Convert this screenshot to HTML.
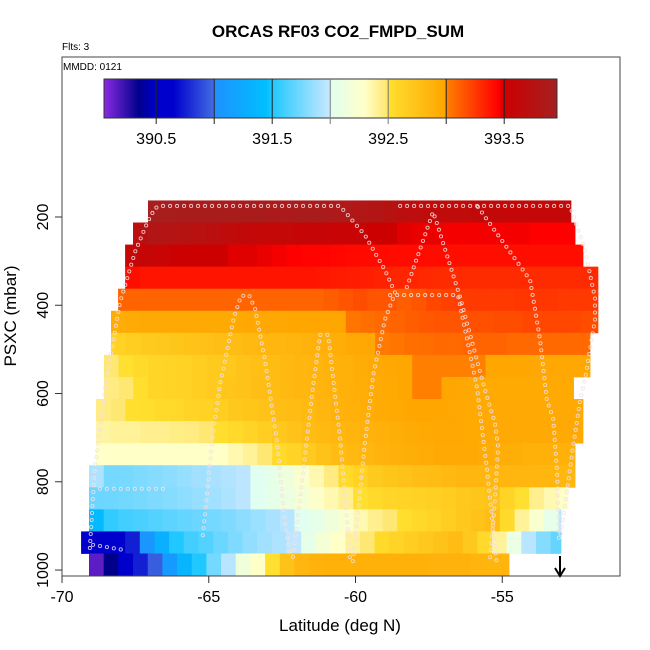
<!DOCTYPE html>
<html><head><meta charset="utf-8">
<style>
body{margin:0;background:#fff;}
svg{display:block;font-family:"Liberation Sans",Arial,sans-serif;}
</style></head>
<body>
<svg id="chart" width="650" height="650" viewBox="0 0 650 650" xmlns="http://www.w3.org/2000/svg">
<text x="338" y="37" font-size="17" font-weight="bold" text-anchor="middle">ORCAS RF03 CO2_FMPD_SUM</text>
<text x="62" y="50" font-size="10">Flts: 3</text>
<g id="heat"></g>
<g id="track"></g>
<g id="cbar"></g>
<text x="63" y="70" font-size="10">MMDD: 0121</text>
<rect x="62" y="57" width="558" height="519" fill="none" stroke="#444" stroke-width="1"/>
<g id="axes"></g>
<text x="340" y="631" font-size="17" text-anchor="middle">Latitude (deg N)</text>
<text transform="translate(16,316) rotate(-90)" font-size="17" text-anchor="middle">PSXC (mbar)</text>
<g>
<line x1="560" y1="556" x2="560" y2="575" stroke="#000" stroke-width="2"/>
<path d="M555 568 L560 576 L565 568" fill="none" stroke="#000" stroke-width="2"/>
</g>
</svg>
<script>
const NS="http://www.w3.org/2000/svg";
const xTicks=[-70,-65,-60,-55];
const yTicks=[200,400,600,800,1000];
const cbTicks=[390.5,391.5,392.5,393.5];
const cbDivs=[390.5,391.0,391.5,392.0,392.5,393.0,393.5];
const binWidth=0.5;
const rowTop=[162.5,212.5,262.5,312.5,362.5,412.5,462.5,512.5,562.5,612.5,662.5,712.5,762.5,812.5,862.5,912.5,962.5];
const rowStart=[-67.07,-67.58,-67.85,-67.85,-68.09,-68.33,-68.33,-68.57,-68.57,-68.84,-68.84,-68.84,-69.08,-69.08,-69.08,-69.35,-69.08];
const rowEnd=[-52.66,-52.52,-52.25,-51.74,-51.74,-51.74,-52.01,-52.01,-52.25,-52.25,-52.25,-52.52,-52.52,-52.76,-53.0,-53.0,-54.77];
const row0=[393.92,393.92,393.9,393.9,393.9,393.9,393.9,393.9,393.88,393.88,393.9,393.9,393.88,393.85,393.82,393.8,393.75,393.7,393.68,393.65,393.65,393.65,393.62,393.62,393.6,393.6,393.6,393.6,393.62];
const row1=[393.7,393.8,393.78,393.75,393.72,393.7,393.65,393.62,393.6,393.6,393.6,393.58,393.58,393.55,393.55,393.55,393.52,393.5,393.48,393.47,393.47,393.46,393.46,393.46,393.46,393.46,393.46,393.45,393.45,393.45,393.45];
const row2=[393.6,393.58,393.55,393.52,393.5,393.5,393.5,393.48,393.48,393.47,393.46,393.45,393.44,393.44,393.43,393.42,393.42,393.42,393.41,393.41,393.41,393.41,393.4,393.4,393.4,393.4,393.4,393.4,393.4,393.4,393.4,393.4];
const row3=[393.4,393.38,393.38,393.38,393.38,393.38,393.38,393.38,393.38,393.38,393.38,393.38,393.38,393.37,393.36,393.35,393.34,393.33,393.32,393.32,393.31,393.3,393.3,393.3,393.3,393.3,393.3,393.3,393.3,393.3,393.3,393.3,393.3];
const row4=[393.1,393.1,393.1,393.1,393.1,393.1,393.1,393.1,393.1,393.1,393.1,393.1,393.1,393.1,393.12,393.15,393.18,393.15,393.15,393.12,393.15,393.2,393.22,393.24,393.25,393.25,393.25,393.26,393.26,393.26,393.25,393.25,393.25];
const row5=[392.93,392.94,392.95,392.95,392.95,392.95,392.96,392.96,392.96,392.97,392.97,392.97,392.98,392.98,392.98,392.98,393.04,393.06,393.08,393.1,393.12,393.14,393.15,393.15,393.17,393.17,393.18,393.18,393.2,393.2,393.2,393.2,393.18,393.18];
const row6=[392.62,392.65,392.68,392.7,392.72,392.74,392.76,392.78,392.8,392.82,392.84,392.85,392.86,392.88,392.9,392.92,392.95,392.97,393.02,393.04,393.06,393.07,393.08,393.08,393.1,393.1,393.1,393.08,393.08,393.08,393.08,393.08,393.08];
const row7=[392.48,392.5,392.55,392.58,392.6,392.62,392.65,392.68,392.7,392.74,392.77,392.8,392.82,392.84,392.86,392.88,392.9,392.93,392.95,392.97,392.98,393.0,393.0,393.0,393.0,393.0,392.98,392.98,392.98,392.97,392.97,392.97,392.97,392.97];
const row8=[392.45,392.48,392.52,392.58,392.6,392.62,392.65,392.68,392.72,392.75,392.78,392.8,392.82,392.84,392.86,392.88,392.9,392.92,392.94,392.96,392.98,393.0,393.0,392.98,392.97,392.96,392.96,392.96,392.96,392.96,392.96,392.96];
const row9=[392.45,392.48,392.5,392.52,392.55,392.57,392.6,392.62,392.65,392.7,392.72,392.75,392.78,392.8,392.82,392.85,392.88,392.9,392.92,392.94,392.96,392.98,392.98,392.98,392.97,392.96,392.95,392.95,392.95,392.95,392.95,392.95,392.95,392.95];
const row10=[392.38,392.4,392.4,392.42,392.42,392.44,392.45,392.48,392.52,392.55,392.6,392.65,392.7,392.75,392.8,392.82,392.85,392.86,392.88,392.9,392.92,392.94,392.96,392.97,392.97,392.96,392.95,392.95,392.95,392.95,392.95,392.95,392.95,392.95];
const row11=[392.3,392.3,392.3,392.3,392.3,392.3,392.3,392.3,392.3,392.35,392.4,392.48,392.55,392.6,392.68,392.75,392.8,392.82,392.85,392.87,392.9,392.92,392.93,392.95,392.95,392.95,392.93,392.92,392.92,392.9,392.9,392.9,392.9];
const row12=[391.92,391.75,391.76,391.78,391.8,391.82,391.85,391.88,391.9,391.93,391.96,392.0,392.05,392.15,392.25,392.35,392.45,392.55,392.62,392.68,392.72,392.75,392.78,392.8,392.82,392.84,392.85,392.85,392.85,392.85,392.84,392.84,392.84,392.84];
const row13=[391.72,391.73,391.74,391.76,391.78,391.8,391.82,391.85,391.88,391.92,391.96,392.0,392.05,392.12,392.2,392.28,392.35,392.42,392.5,392.55,392.58,392.6,392.62,392.64,392.66,392.7,392.72,392.75,392.6,392.5,392.42,392.35,392.3];
const row14=[391.4,391.55,391.6,391.62,391.65,391.68,391.7,391.72,391.75,391.78,391.82,391.86,391.9,391.95,392.0,392.05,392.15,392.25,392.35,392.42,392.48,392.52,392.56,392.6,392.65,392.7,392.75,392.8,392.55,392.4,392.25,392.05,391.95];
const row15=[390.55,390.6,390.6,390.75,391.05,391.3,391.5,391.6,391.65,391.72,391.78,391.84,391.88,391.92,391.97,392.05,392.2,392.3,392.4,392.48,392.55,392.6,392.65,392.7,392.75,392.8,392.7,392.55,392.4,392.1,391.95,391.8,391.7];
const row16=[390.15,390.35,390.55,390.75,390.95,391.1,391.35,391.5,391.75,391.95,392.15,392.3,392.5,392.75,392.85,392.88,392.9,392.9,392.9,392.9,392.9,392.9,392.9,392.88,392.88,392.88,392.86,392.86,392.86];
const rows=[row0,row1,row2,row3,row4,row5,row6,row7,row8,row9,row10,row11,row12,row13,row14,row15,row16];
const trackLat=[
 [-69.05,-68.88,-68.5,-68.02,-67.51,-67.07,-66.83,-66.66,-60.53,-59.68,-59.0,-58.65,-59.0,-59.4,-59.68,-59.88,-60.09],
 [-58.82,-56.51,-55.86,-55.52,-55.18],
 [-58.25,-57.36,-57.26,-56.44,-55.59,-55.25,-55.14,-55.28,-55.42],
 [-58.48,-52.69,-52.18,-51.84,-51.84,-52.15,-52.35,-52.62,-52.76,-53.03],
 [-55.83,-54.05,-53.71,-53.48,-53.27,-53.13,-53.07],
 [-65.2,-64.86,-64.62,-64.14,-63.9,-63.63,-63.42,-63.08,-62.67,-62.4,-62.23],
 [-62.13,-61.79,-61.45,-61.24,-61.21,-60.94,-60.9,-60.73,-60.53,-60.36,-60.19],
 [-68.94,-67.85],
 [-68.71,-66.49]
];
const trackP=[
 [950,769,574,393,279,209,180,175,175,241,320,372,433,560,712,844,980],
 [377,377,587,773,991],
 [359,189,207,381,592,667,721,871,977],
 [175,175,275,384,433,556,617,735,805,927],
 [177,343,479,615,655,778,927],
 [921,694,581,427,379,377,408,526,712,893,970],
 [970,782,585,485,467,467,485,585,699,830,973],
 [943,955],
 [816,816]
];
const X0=62,X1=620;
const xS=v=>X0+(v+70)*(X1-X0)/19.0118;
const yS=p=>217+(p-200)*0.4413;
const cbX=v=>104+(v-390.05)*116;
const stops=[[390.05,"#8a2be2"],[390.35,"#00008b"],[390.5,"#0000cd"],[390.65,"#0000cd"],[390.99,"#4169e1"],[391.0,"#1e90ff"],[391.45,"#00bfff"],[391.5,"#20c8ff"],[391.99,"#c6e8ff"],[392.0,"#e0fff0"],[392.3,"#ffffc8"],[392.49,"#ffe66e"],[392.5,"#ffe030"],[392.99,"#ffa500"],[393.0,"#ff8000"],[393.45,"#ff0000"],[393.5,"#cd0000"],[393.95,"#a52020"]];
function hex(h){return [1,3,5].map(i=>parseInt(h.substr(i,2),16));}
function cmap(v){
 if(v<=stops[0][0])return stops[0][1];
 for(let i=1;i<stops.length;i++){
  if(v<=stops[i][0]){const a=stops[i-1],b=stops[i];const t=(v-a[0])/(b[0]-a[0]||1);
   const c1=hex(a[1]),c2=hex(b[1]);return "rgb("+c1.map((c,k)=>Math.round(c+(c2[k]-c)*t)).join(",")+")";}
 }
 return stops[stops.length-1][1];
}
const heat=document.getElementById('heat');
rows.forEach((vals,r)=>{
 const yT=yS(rowTop[r]),yB=yS(rowTop[r]+50);
 vals.forEach((v,i)=>{
  const l0=rowStart[r]+i*binWidth,l1=Math.min(rowEnd[r],l0+binWidth);
  if(l1<=l0)return;
  const rc=document.createElementNS(NS,'rect');
  
  
  rc.setAttribute('x',xS(l0));rc.setAttribute('y',yT);
  rc.setAttribute('width',xS(l1)-xS(l0)+0.4);rc.setAttribute('height',yB-yT+0.4);
  rc.setAttribute('fill',cmap(v));
  heat.appendChild(rc);
 });
});
const track=document.getElementById('track');
const SP=7;
function dot(x,y){const c=document.createElementNS(NS,'circle');
 
 
 c.setAttribute('cx',x);c.setAttribute('cy',y);c.setAttribute('r',1.6);c.setAttribute('fill','none');c.setAttribute('stroke','#f2e2e2');c.setAttribute('stroke-opacity','0.85');c.setAttribute('stroke-width','0.9');track.appendChild(c);}
trackLat.forEach((lats,k)=>{
 const ps=trackP[k];let carry=0;
 for(let i=0;i<lats.length;i++){
  const xa=xS(lats[i]),ya=yS(ps[i]);
  if(i===0){dot(xa,ya);continue;}
  const xp=xS(lats[i-1]),yp=yS(ps[i-1]);const d=Math.hypot(xa-xp,ya-yp);
  let s=SP-carry;
  while(s<=d){dot(xp+(xa-xp)*s/d,yp+(ya-yp)*s/d);s+=SP;}
  carry=d-(s-SP);
 }
});
const cb=document.getElementById('cbar');
for(let px=104;px<557;px++){
 const v=390.05+(px+0.5-104)/116;
 const rc=document.createElementNS(NS,'rect');
 
 
 rc.setAttribute('x',px);rc.setAttribute('y',79);rc.setAttribute('width',1.2);rc.setAttribute('height',39);rc.setAttribute('fill',cmap(v));cb.appendChild(rc);
}
const cbf=document.createElementNS(NS,'rect');


cbf.setAttribute('x',104);cbf.setAttribute('y',79);cbf.setAttribute('width',453);cbf.setAttribute('height',39);cbf.setAttribute('fill','none');cbf.setAttribute('stroke','#333');cb.appendChild(cbf);
cbDivs.forEach(v=>{const l=document.createElementNS(NS,'line');
 
 
 l.setAttribute('x1',cbX(v));l.setAttribute('x2',cbX(v));l.setAttribute('y1',79);l.setAttribute('y2',124);l.setAttribute('stroke',(v===392||v===392.5)?'#777':'#222');l.setAttribute('stroke-width','1');cb.appendChild(l);});
cbTicks.forEach(v=>{const t=document.createElementNS(NS,'text');
 
 
 t.setAttribute('x',cbX(v));t.setAttribute('y',144);t.setAttribute('font-size','16');t.setAttribute('text-anchor','middle');t.textContent=v.toFixed(1);cb.appendChild(t);});
const ax=document.getElementById('axes');
xTicks.forEach(v=>{const l=document.createElementNS(NS,'line');
 
 
 l.setAttribute('x1',xS(v));l.setAttribute('x2',xS(v));l.setAttribute('y1',576);l.setAttribute('y2',583);l.setAttribute('stroke','#333');ax.appendChild(l);
 const t=document.createElementNS(NS,'text');
 
 
 t.setAttribute('x',xS(v));t.setAttribute('y',602);t.setAttribute('font-size','16');t.setAttribute('text-anchor','middle');t.textContent=String(v);ax.appendChild(t);});
yTicks.forEach(v=>{const l=document.createElementNS(NS,'line');
 
 
 l.setAttribute('x1',55);l.setAttribute('x2',62);l.setAttribute('y1',yS(v));l.setAttribute('y2',yS(v));l.setAttribute('stroke','#333');ax.appendChild(l);
 const t=document.createElementNS(NS,'text');
 
 
 t.setAttribute('transform','translate(48,'+yS(v)+') rotate(-90)');t.setAttribute('font-size','16');t.setAttribute('text-anchor','middle');t.textContent=String(v);ax.appendChild(t);});
</script>
</body></html>
